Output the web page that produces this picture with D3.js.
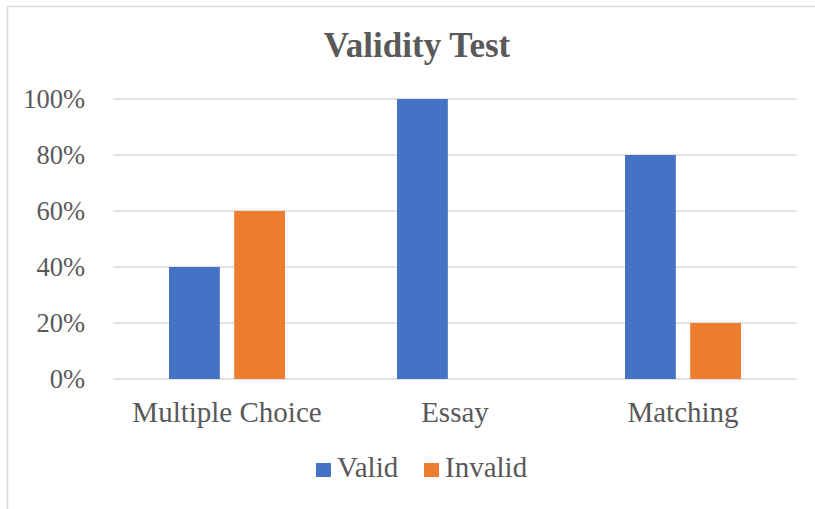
<!DOCTYPE html>
<html>
<head>
<meta charset="utf-8">
<script src="https://cdn.jsdelivr.net/npm/d3@7"></script>
<style>
  body { margin: 0; background: #fff; }
  text { font-family: "Palatino Linotype", "Book Antiqua", Palatino, "Liberation Serif", serif; fill: #595959; }
</style>
</head>
<body>
<div id="chart"></div>
<script>
const categories = ["Multiple Choice", "Essay", "Matching"];
const seriesNames = ["Valid", "Invalid"];
const validValues = [0.4, 1.0, 0.8];
const invalidValues = [0.6, 0, 0.2];
const yTicks = [0, 0.2, 0.4, 0.6, 0.8, 1.0];
const colors = ["#4472C4", "#ED7D31"];

const width = 815, height = 509,
  margin = ({ top: 99, right: 18, bottom: 130, left: 113 });

const data = categories.map((c, i) => ({ cat: c, values: [validValues[i], invalidValues[i]] }));

let svg = d3.select("#chart")
  .append("svg")
  .attr("width", width)
  .attr("height", height);

// outer chart border
svg.append("rect")
  .attr("x", 7.5).attr("y", 6.5)
  .attr("width", width + 10).attr("height", height + 10)
  .attr("fill", "none")
  .attr("stroke", "#d9d9d9")
  .attr("stroke-width", 1.5);

let x = d3.scaleBand()
  .domain(categories)
  .range([margin.left, width - margin.right]);

let xInner = d3.scaleBand()
  .domain(seriesNames)
  .range([56, x.bandwidth() - 56])
  .paddingInner(0.22);

let y = d3.scaleLinear()
  .domain([0, 1])
  .range([height - margin.bottom, margin.top]);

// gridlines
svg.append("g")
  .selectAll("line")
  .data(yTicks)
  .join("line")
  .attr("x1", margin.left)
  .attr("x2", width - margin.right)
  .attr("y1", d => y(d))
  .attr("y2", d => y(d))
  .attr("stroke", "#d9d9d9")
  .attr("stroke-width", 1.5);

// y tick labels
svg.append("g")
  .selectAll("text")
  .data(yTicks)
  .join("text")
  .attr("x", 85)
  .attr("y", d => y(d))
  .attr("dy", "0.33em")
  .attr("text-anchor", "end")
  .style("font-size", "26.5px")
  .text(d => d3.format(".0%")(d));

// bars
let group = svg.selectAll(".grp")
  .data(data)
  .join("g")
  .attr("class", "grp")
  .attr("transform", d => `translate(${x(d.cat)},0)`);

group.selectAll("rect")
  .data(d => d.values.map((v, i) => ({ s: seriesNames[i], v: v, i: i })))
  .join("rect")
  .attr("x", d => xInner(d.s))
  .attr("width", xInner.bandwidth())
  .attr("y", d => y(d.v))
  .attr("height", d => y(0) - y(d.v))
  .attr("fill", d => colors[d.i]);

// category labels
svg.append("g")
  .selectAll("text")
  .data(categories)
  .join("text")
  .attr("x", d => x(d) + x.bandwidth() / 2)
  .attr("y", 422)
  .attr("text-anchor", "middle")
  .style("font-size", "29px")
  .text(d => d);

// title
svg.append("text")
  .attr("x", 417)
  .attr("y", 57)
  .attr("text-anchor", "middle")
  .style("font-size", "35px")
  .style("font-weight", "bold")
  .text("Validity Test");

// legend
const legendX = [316, 424];
let legend = svg.selectAll(".legend")
  .data(seriesNames)
  .join("g")
  .attr("class", "legend")
  .attr("transform", (d, i) => `translate(${legendX[i]},463)`);

legend.append("rect")
  .attr("width", 15).attr("height", 14)
  .attr("fill", (d, i) => colors[i]);

legend.append("text")
  .attr("x", 21)
  .attr("y", 14)
  .style("font-size", "29px")
  .text(d => d);
</script>
</body>
</html>
